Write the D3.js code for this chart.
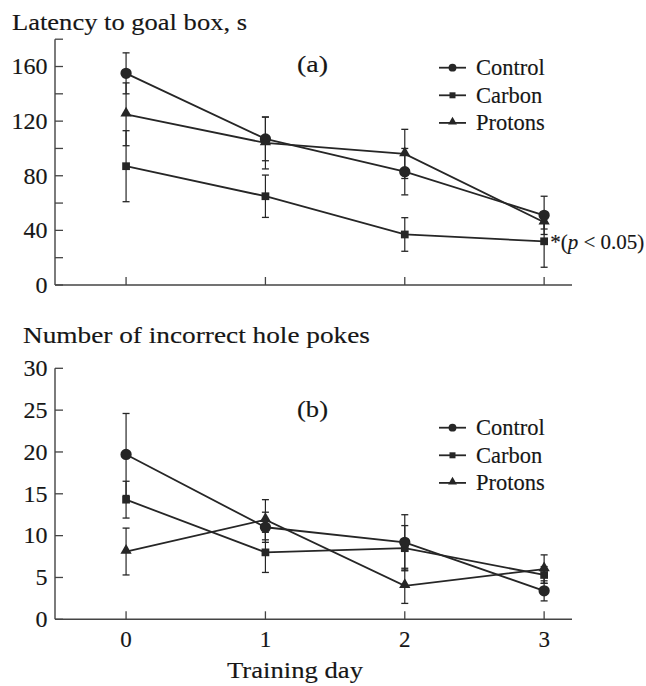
<!DOCTYPE html>
<html><head><meta charset="utf-8">
<script src="https://cdn.jsdelivr.net/npm/d3@7"></script>
<style>
body{margin:0;background:#fff;}
text{font-family:"Liberation Serif","Times New Roman",serif;fill:#161616;stroke:#161616;stroke-width:0.15px;}
</style></head>
<body><svg id="c" width="646" height="686"></svg>
<script>
const days = [0, 1, 2, 3];
const seriesNames = ["Control", "Carbon", "Protons"];
// Panel (a): latency to goal box, s
const latControl = [155, 107, 83, 51];
const latControlErr = [15, 16, 17, 14];
const latCarbon = [87, 65, 37, 32];
const latCarbonErr = [26, 15.5, 12.3, 19];
const latProtons = [125, 104, 96, 46];
const latProtonsErr = [23, 19, 18, 5];
// Panel (b): number of incorrect hole pokes
const pokControl = [19.7, 11.0, 9.2, 3.4];
const pokControlErr = [4.9, 1.8, 3.3, 1.2];
const pokCarbon = [14.3, 8.0, 8.5, 5.3];
const pokCarbonErr = [2.2, 2.4, 2.7, 1.0];
const pokProtons = [8.1, 11.9, 4.0, 6.0];
const pokProtonsErr = [2.8, 2.4, 2.1, 1.7];
const latTicks = [0, 20, 40, 60, 80, 100, 120, 140, 160, 180];
const latLabels = [0, 40, 80, 120, 160];
const pokTicks = [0, 5, 10, 15, 20, 25, 30];

const svg = d3.select("#c");
const ink = "#262626";
const shapes = {Control: d3.symbolCircle, Carbon: d3.symbolSquare, Protons: d3.symbolTriangle};
const sizes = {Control: 100, Carbon: 60, Protons: 55};
const legSizes = {Control: 48, Carbon: 36, Protons: 34};

const x = d3.scaleLinear().domain([-0.51, 3.2]).range([55, 572]);

function panel(cfg) {
  const g = svg.append("g");
  const y = d3.scaleLinear().domain(cfg.domain).range(cfg.range);
  g.append("line").attr("x1", x.range()[0]).attr("x2", x.range()[0])
    .attr("y1", y(cfg.domain[0])).attr("y2", y(cfg.domain[1]))
    .attr("stroke", "#444").attr("stroke-width", 1.4);
  g.append("line").attr("x1", x.range()[0]).attr("x2", x.range()[1])
    .attr("y1", y(0)).attr("y2", y(0))
    .attr("stroke", "#444").attr("stroke-width", 1.4);
  g.selectAll(".yt").data(cfg.ticks).enter().append("line")
    .attr("x1", x.range()[0]).attr("x2", x.range()[0] + 8)
    .attr("y1", d => y(d)).attr("y2", d => y(d))
    .attr("stroke", "#444").attr("stroke-width", 1.3);
  g.selectAll(".yl").data(cfg.labels).enter().append("text")
    .attr("x", 47.5).attr("y", d => y(d) + 7.8)
    .attr("text-anchor", "end").attr("font-size", 23)
    .attr("textLength", d => String(d).length * 12).attr("lengthAdjust", "spacingAndGlyphs")
    .text(d => d);
  g.selectAll(".xt").data(days).enter().append("line")
    .attr("x1", d => x(d)).attr("x2", d => x(d))
    .attr("y1", y(0)).attr("y2", y(0) - 8)
    .attr("stroke", "#444").attr("stroke-width", 1.3);
  if (cfg.xlabels) {
    g.selectAll(".xl").data(days).enter().append("text")
      .attr("x", d => x(d)).attr("y", y(0) + 27.5)
      .attr("text-anchor", "middle").attr("font-size", 23)
      .text(d => d);
  }
  g.append("text").attr("x", cfg.titleX).attr("y", cfg.titleY)
    .attr("font-size", 22.5).attr("textLength", cfg.titleLen).attr("lengthAdjust", "spacingAndGlyphs")
    .text(cfg.title);
  g.append("text").attr("x", 297).attr("y", cfg.tagY).attr("font-size", 23)
    .attr("textLength", 31).attr("lengthAdjust", "spacingAndGlyphs").text(cfg.tag);

  const line = d3.line().x((d, i) => x(days[i])).y(d => y(d));
  cfg.series.forEach(s => {
    s.vals.forEach((v, i) => {
      const e = s.err[i];
      const cx = x(days[i]);
      g.append("line").attr("x1", cx).attr("x2", cx).attr("y1", y(v - e)).attr("y2", y(v + e))
        .attr("stroke", ink).attr("stroke-width", 1.2);
      [v - e, v + e].forEach(t => {
        g.append("line").attr("x1", cx - 3.5).attr("x2", cx + 3.5).attr("y1", y(t)).attr("y2", y(t))
          .attr("stroke", ink).attr("stroke-width", 1.3);
      });
    });
  });
  cfg.series.forEach(s => {
    g.append("path").attr("d", line(s.vals)).attr("fill", "none")
      .attr("stroke", ink).attr("stroke-width", 1.8);
  });
  cfg.series.forEach(s => {
    g.selectAll(null).data(s.vals).enter().append("path")
      .attr("d", d3.symbol().type(shapes[s.name]).size(sizes[s.name]))
      .attr("transform", (d, i) => `translate(${x(days[i])},${y(d) + (s.name === "Protons" ? -1 : 0)})`)
      .attr("fill", ink);
  });
  seriesNames.forEach((n, i) => {
    const ly = cfg.legY + i * 27.6;
    g.append("line").attr("x1", 439).attr("x2", 466).attr("y1", ly).attr("y2", ly)
      .attr("stroke", ink).attr("stroke-width", 1.8);
    g.append("path").attr("d", d3.symbol().type(shapes[n]).size(legSizes[n]))
      .attr("transform", `translate(452.5,${ly - (n === "Protons" ? 1 : 0)})`).attr("fill", ink);
    g.append("text").attr("x", 476).attr("y", ly + 7.5).attr("font-size", 22.5).text(n);
  });
  return y;
}

const ya = panel({
  domain: [0, 180], range: [285, 39.2], ticks: latTicks, labels: latLabels,
  title: "Latency to goal box, s", titleX: 12, titleY: 30, titleLen: 235,
  tag: "(a)", tagY: 72, legY: 67.7, xlabels: false,
  series: [
    {name: "Control", vals: latControl, err: latControlErr},
    {name: "Carbon", vals: latCarbon, err: latCarbonErr},
    {name: "Protons", vals: latProtons, err: latProtonsErr}
  ]
});
const sig = svg.append("text").attr("x", x(3) + 6).attr("y", ya(latCarbon[3]) + 7.5).attr("font-size", 21);
sig.append("tspan").text("*(");
sig.append("tspan").attr("font-style", "italic").text("p");
sig.append("tspan").text(" < 0.05)");

panel({
  domain: [0, 30], range: [619.3, 368.3], ticks: pokTicks, labels: pokTicks,
  title: "Number of incorrect hole pokes", titleX: 23, titleY: 343, titleLen: 347,
  tag: "(b)", tagY: 417, legY: 427.7, xlabels: true,
  series: [
    {name: "Control", vals: pokControl, err: pokControlErr},
    {name: "Carbon", vals: pokCarbon, err: pokCarbonErr},
    {name: "Protons", vals: pokProtons, err: pokProtonsErr}
  ]
});
svg.append("text").attr("x", 295).attr("y", 678).attr("text-anchor", "middle")
  .attr("font-size", 23).attr("textLength", 136).attr("lengthAdjust", "spacingAndGlyphs")
  .text("Training day");
</script></body></html>
